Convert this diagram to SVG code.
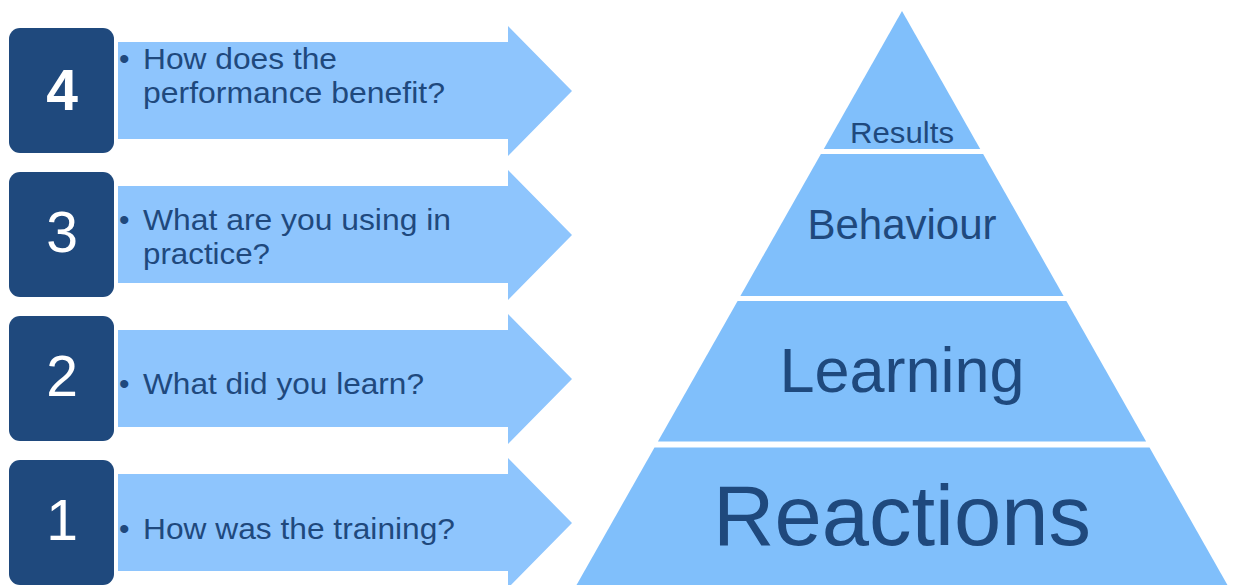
<svg xmlns="http://www.w3.org/2000/svg" width="1235" height="585" viewBox="0 0 1235 585">
<style>
.box{fill:#1F497D}
.num{fill:#FFFFFF;font-family:"Liberation Sans",Arial,sans-serif;font-size:57px;text-anchor:middle}
.arrow{fill:#8EC5FD}
.txt{fill:#1F497D;font-family:"Liberation Sans",Arial,sans-serif;font-size:30px}
.tier{fill:#80BFFB}
.ptxt{fill:#1F497D;font-family:"Liberation Sans",Arial,sans-serif;text-anchor:middle}
</style>
<rect width="1235" height="585" fill="#FFFFFF"/>
<g id="connectors"></g>
<g id="step4">
<polygon class="arrow" points="118,42 508,42 508,26 572,91 508,156 508,139 118,139"/>
<rect class="box" x="9" y="28" width="105" height="125" rx="11"/>
<text class="num" x="62" y="110" font-weight="bold">4</text>
<text class="txt" x="119" y="69">•</text>
<text class="txt" x="143" y="69" textLength="194" lengthAdjust="spacingAndGlyphs">How does the</text>
<text class="txt" x="143" y="103" textLength="302" lengthAdjust="spacingAndGlyphs">performance benefit?</text>
</g>
<g id="step3">
<polygon class="arrow" points="118,186 508,186 508,170 572,235 508,300 508,283 118,283"/>
<rect class="box" x="9" y="172" width="105" height="125" rx="11"/>
<text class="num" x="62" y="252">3</text>
<text class="txt" x="119" y="230">•</text>
<text class="txt" x="143" y="230" textLength="308" lengthAdjust="spacingAndGlyphs">What are you using in</text>
<text class="txt" x="143" y="264" textLength="127" lengthAdjust="spacingAndGlyphs">practice?</text>
</g>
<g id="step2">
<polygon class="arrow" points="118,330 508,330 508,314 572,379 508,444 508,427 118,427"/>
<rect class="box" x="9" y="316" width="105" height="125" rx="11"/>
<text class="num" x="62" y="396">2</text>
<text class="txt" x="119" y="394">•</text>
<text class="txt" x="143" y="394" textLength="281" lengthAdjust="spacingAndGlyphs">What did you learn?</text>
</g>
<g id="step1">
<polygon class="arrow" points="118,474 508,474 508,458 572,523 508,588 508,571 118,571"/>
<rect class="box" x="9" y="460" width="105" height="125" rx="11"/>
<text class="num" x="62" y="540">1</text>
<text class="txt" x="119" y="539">•</text>
<text class="txt" x="143" y="539" textLength="312" lengthAdjust="spacingAndGlyphs">How was the training?</text>
</g>
<g id="results">
<polygon class="tier" points="902,11 980.2,149 823.8,149"/>
<text class="ptxt" x="902" y="143" font-size="30" textLength="104" lengthAdjust="spacingAndGlyphs">Results</text>
</g>
<g id="behaviour">
<polygon class="tier" points="820.9,154 983.1,154 1063.6,296 740.4,296"/>
<text class="ptxt" x="902" y="239" font-size="42">Behaviour</text>
</g>
<g id="learning">
<polygon class="tier" points="737.6,301 1066.4,301 1146.1,441.5 657.9,441.5"/>
<text class="ptxt" x="902" y="392" font-size="63">Learning</text>
</g>
<g id="reactions">
<polygon class="tier" points="654.5,447.5 1149.5,447.5 1230.3,590 573.7,590"/>
<text class="ptxt" x="902" y="545" font-size="85">Reactions</text>
</g>
</svg>
